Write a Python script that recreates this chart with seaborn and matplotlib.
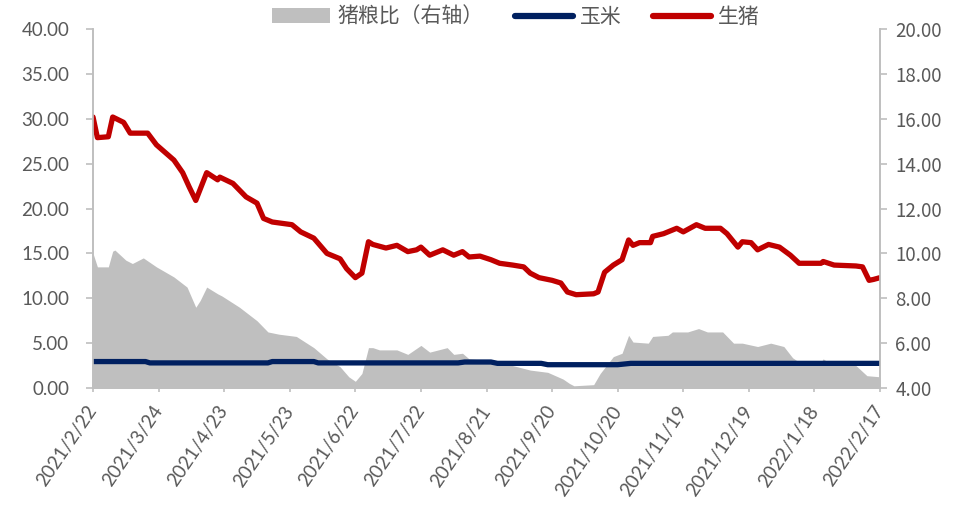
import numpy as np
import pandas as pd
import matplotlib
matplotlib.use("Agg")
import matplotlib.pyplot as plt
from matplotlib.patches import Patch
from matplotlib.lines import Line2D
import seaborn as sns

sns.set_style("white")
plt.rcParams["font.family"] = ["Lato", "Noto Sans CJK SC", "DejaVu Sans"]

START = pd.Timestamp("2021-02-22")

# 生猪 price (left axis), day offset from 2021/2/22 -> value
hog_days = [0, 2, 7, 9, 14, 17, 25, 29, 37, 41, 44, 47, 52, 57, 58, 64, 70, 75, 78, 82,
            91, 95, 101, 107, 113, 116, 120, 123, 126, 128, 134, 139, 144, 148, 150, 154,
            160, 165, 169, 172, 177, 182, 186, 192, 197, 200, 204, 210, 214, 217, 221,
            229, 231, 234, 238, 242, 245, 247, 250, 255, 256, 261, 267, 270, 276, 280,
            287, 290, 295, 297, 301, 304, 309, 314, 319, 323, 333, 334, 339, 349, 352,
            355, 357, 360]
hog_vals = [30.2, 27.9, 28.0, 30.2, 29.6, 28.4, 28.4, 27.1, 25.4, 24.0, 22.4, 20.9, 24.0,
            23.2, 23.5, 22.8, 21.3, 20.6, 18.9, 18.5, 18.2, 17.4, 16.7, 15.0, 14.4, 13.3,
            12.3, 12.8, 16.3, 16.0, 15.6, 15.9, 15.2, 15.4, 15.7, 14.8, 15.4, 14.8, 15.2,
            14.6, 14.7, 14.3, 13.9, 13.7, 13.5, 12.8, 12.3, 12.0, 11.7, 10.7, 10.4, 10.5,
            10.7, 12.9, 13.7, 14.3, 16.5, 15.9, 16.2, 16.2, 16.9, 17.2, 17.8, 17.4, 18.2,
            17.8, 17.8, 17.2, 15.7, 16.3, 16.2, 15.4, 16.0, 15.7, 14.8, 13.9, 13.9, 14.1,
            13.7, 13.6, 13.5, 12.0, 12.1, 12.3]

# 玉米 price (left axis)
corn_days = [0, 24, 26, 80, 82, 101, 103, 167, 170, 182, 185, 205, 208, 240, 246, 360]
corn_vals = [2.95, 2.95, 2.8, 2.8, 2.95, 2.95, 2.8, 2.8, 2.9, 2.9, 2.75, 2.75, 2.6, 2.6,
             2.75, 2.75]

# 猪粮比 (right axis)
ratio_days = [0, 2, 7, 9, 10, 15, 18, 23, 29, 37, 43, 47, 49, 52, 57, 59, 67, 75, 80, 85,
              93, 101, 107, 113, 117, 120, 123, 126, 128, 131, 139, 144, 150, 154, 162,
              165, 169, 172, 178, 185, 192, 200, 208, 215, 218, 220, 229, 232, 238, 242,
              245, 247, 254, 256, 263, 265, 272, 277, 281, 288, 293, 297, 304, 310, 316,
              320, 323, 333, 334, 337, 349, 354, 360]
ratio_vals = [10.0, 9.4, 9.4, 10.1, 10.15, 9.7, 9.55, 9.8, 9.4, 8.95, 8.5, 7.6, 7.9, 8.5,
              8.2, 8.1, 7.6, 7.0, 6.5, 6.4, 6.3, 5.8, 5.3, 4.95, 4.5, 4.3, 4.65, 5.8, 5.8,
              5.7, 5.7, 5.5, 5.9, 5.6, 5.8, 5.5, 5.55, 5.3, 5.25, 5.1, 5.0, 4.8, 4.7, 4.4,
              4.2, 4.1, 4.15, 4.65, 5.4, 5.55, 6.35, 6.05, 6.0, 6.3, 6.35, 6.5, 6.5, 6.65,
              6.5, 6.5, 6.0, 6.0, 5.85, 6.0, 5.85, 5.35, 5.15, 5.15, 5.3, 5.1, 5.0, 4.55,
              4.5]

tick_days = list(range(0, 361, 30))

hog = pd.DataFrame({"date": START + pd.to_timedelta(hog_days, unit="D"), "v": hog_vals})
corn = pd.DataFrame({"date": START + pd.to_timedelta(corn_days, unit="D"), "v": corn_vals})
ratio = pd.DataFrame({"date": START + pd.to_timedelta(ratio_days, unit="D"), "v": ratio_vals})
tick_dates = START + pd.to_timedelta(tick_days, unit="D")

GRAY_TXT = "#595959"
SPINE = "#BFBFBF"
FILL = "#BFBFBF"
NAVY = "#002060"
RED = "#C00000"

fig = plt.figure(figsize=(9.66, 5.16), dpi=100)
ax = fig.add_axes([0.0963, 0.248, 0.8147, 0.6957])
ax2 = ax.twinx()

# ratio area on the right axis, behind the price lines
ax2.fill_between(ratio["date"], 4, ratio["v"], color=FILL, linewidth=0)
ax2.set_ylim(4, 20)
ax2.set_yticks(np.arange(4, 20.01, 2))
ax2.yaxis.set_major_formatter(matplotlib.ticker.FuncFormatter(lambda v, p: f"{v:.2f}"))

ax.set_zorder(ax2.get_zorder() + 1)
ax.patch.set_visible(False)

sns.lineplot(data=corn, x="date", y="v", ax=ax, color=NAVY, linewidth=3.8)
sns.lineplot(data=hog, x="date", y="v", ax=ax, color=RED, linewidth=3.8)

ax.set_ylim(0, 40)
ax.set_yticks(np.arange(0, 40.01, 5))
ax.yaxis.set_major_formatter(matplotlib.ticker.FuncFormatter(lambda v, p: f"{v:.2f}"))
ax.set_xlim(tick_dates[0], tick_dates[-1])
ax.set_xticks(tick_dates)
ax.set_xticklabels([f"{d.year}/{d.month}/{d.day}" for d in tick_dates])
ax.set_xlabel("")
ax.set_ylabel("")
ax2.set_ylabel("")

for a in (ax, ax2):
    for s in a.spines.values():
        s.set_color(SPINE)
        s.set_linewidth(1.2)
    a.spines["top"].set_visible(False)

ax.tick_params(axis="y", which="major", length=5, width=1.2, color=SPINE,
               labelcolor=GRAY_TXT, labelsize=13.5, pad=12, left=True)
ax.tick_params(axis="x", which="major", length=6, width=1.2, color=SPINE,
               labelcolor=GRAY_TXT, labelsize=13.5, pad=11, bottom=True, direction="inout")
ax2.tick_params(axis="y", which="major", length=5, width=1.2, color=SPINE,
                labelcolor=GRAY_TXT, labelsize=13.5, pad=6, right=True)
for lbl in ax2.get_yticklabels():
    lbl.set_fontfamily(["Noto Sans CJK SC", "DejaVu Sans"])

for lbl in ax.get_xticklabels():
    lbl.set_rotation(56)
    lbl.set_ha("right")
    lbl.set_va("center")
    lbl.set_rotation_mode("anchor")

handles = [Patch(facecolor=FILL, edgecolor="none"),
           Line2D([0], [0], color=NAVY, linewidth=4.5, solid_capstyle="round"),
           Line2D([0], [0], color=RED, linewidth=4.5, solid_capstyle="round")]
labels = ["猪粮比（右轴）", "玉米", "生猪"]
fig.legend(handles, labels, loc="center", bbox_to_anchor=(0.534, 0.967), ncol=3,
           frameon=False, handlelength=2.8, handletextpad=0.33, columnspacing=1.5,
           prop={"family": ["Noto Sans CJK SC", "DejaVu Sans"], "size": 15},
           labelcolor=GRAY_TXT)

fig.savefig("out.png", dpi=100)
